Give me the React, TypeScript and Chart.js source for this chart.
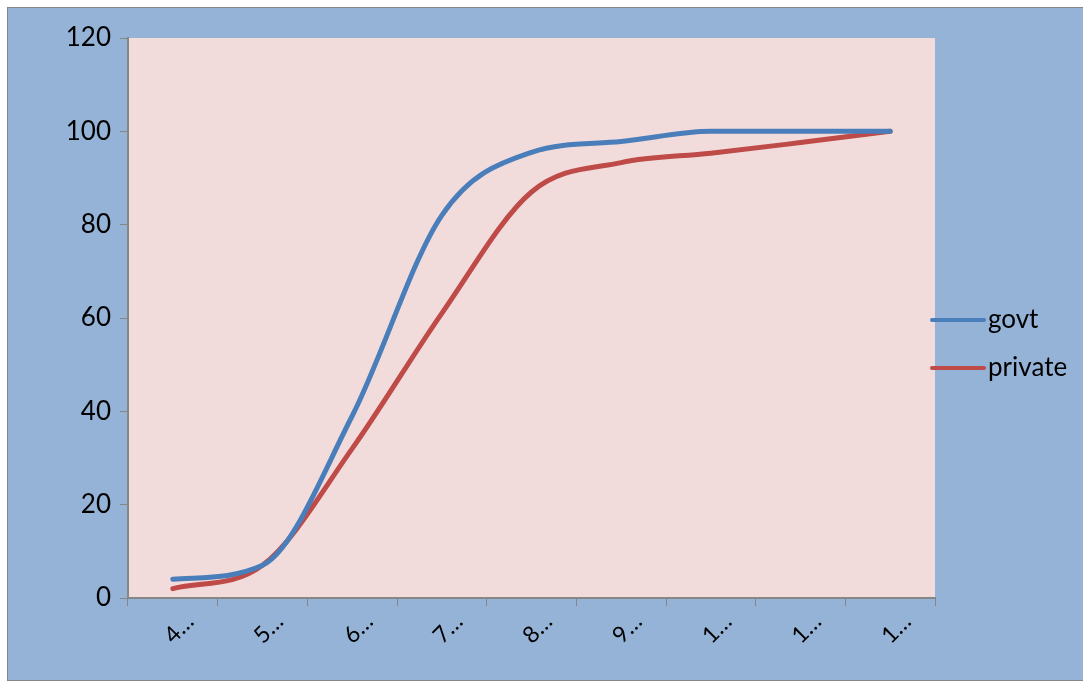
import React, { useEffect, useRef } from "react";
import { Chart, registerables } from "chart.js";

Chart.register(...registerables);

// Category labels (shown truncated as in the workbook view)
const categories = ["4…", "5…", "6…", "7…", "8…", "9…", "1…", "1…", "1…"];
// Cumulative percentages per category
const govtValues = [4, 7, 39, 82, 95.5, 97.8, 100, 100, 100];
const privateValues = [2, 7, 32, 61, 87, 93.3, 95.3, 97.6, 100];
const yTicks = [0, 20, 40, 60, 80, 100, 120];

const BLUE = "#4A7EBB";
const RED = "#BE4B48";
const PLOT_BG = "#F2DCDB";
const OUTER_BG = "#95B3D7";
const AXIS_GREY = "#868686";
const FONT = "Lato, 'Open Sans', sans-serif";
const TEXT_SIZE = 26;

const plotBackground = {
  id: "plotBackground",
  beforeDraw(chart: any) {
    const { ctx, chartArea } = chart;
    ctx.save();
    ctx.fillStyle = PLOT_BG;
    ctx.fillRect(chartArea.left, chartArea.top, chartArea.right - chartArea.left, chartArea.bottom - chartArea.top);
    ctx.restore();
  },
};

const sideLegend = {
  id: "sideLegend",
  afterDraw(chart: any) {
    const { ctx } = chart;
    ctx.save();
    ctx.font = `${TEXT_SIZE}px ${FONT}`;
    ctx.textBaseline = "middle";
    chart.data.datasets.forEach((ds: any, i: number) => {
      const y = 312 + i * 48;
      ctx.strokeStyle = ds.borderColor;
      ctx.lineWidth = 4;
      ctx.lineCap = "round";
      ctx.beginPath();
      ctx.moveTo(924, y);
      ctx.lineTo(976, y);
      ctx.stroke();
      ctx.fillStyle = "#000";
      ctx.fillText(ds.label, 980, y);
    });
    ctx.restore();
  },
};

export default function App() {
  const canvasRef = useRef<HTMLCanvasElement>(null);

  useEffect(() => {
    const chart = new Chart(canvasRef.current!, {
      type: "line",
      data: {
        labels: categories,
        datasets: [
          {
            label: "govt",
            data: govtValues,
            borderColor: BLUE,
            borderWidth: 5,
            pointRadius: 0,
            cubicInterpolationMode: "monotone",
            borderCapStyle: "round",
          },
          {
            label: "private",
            data: privateValues,
            borderColor: RED,
            borderWidth: 5,
            pointRadius: 0,
            cubicInterpolationMode: "monotone",
            borderCapStyle: "round",
          },
        ],
      },
      options: {
        animation: false,
        responsive: false,
        layout: { padding: { top: 30, right: 148, left: 0, bottom: 0 } },
        plugins: { legend: { display: false }, tooltip: { enabled: false } },
        scales: {
          x: {
            type: "category",
            offset: true,
            grid: {
              offset: true,
              drawOnChartArea: false,
              drawTicks: true,
              tickLength: 8,
              color: AXIS_GREY,
            },
            border: { color: AXIS_GREY, width: 2 },
            ticks: {
              minRotation: 45,
              maxRotation: 45,
              autoSkip: false,
              labelOffset: 17,
              padding: 2,
              color: "#000",
              font: { family: FONT, size: 23 },
            },
            afterFit(scale: any) {
              scale.height = 82;
            },
          },
          y: {
            min: 0,
            max: 120,
            afterBuildTicks(scale: any) {
              scale.ticks = yTicks.map((v) => ({ value: v }));
            },
            grid: {
              drawOnChartArea: false,
              drawTicks: true,
              tickLength: 8,
              color: AXIS_GREY,
            },
            border: { color: AXIS_GREY, width: 2 },
            ticks: {
              padding: 9,
              color: "#000",
              font: { family: FONT, size: TEXT_SIZE },
            },
            afterFit(scale: any) {
              scale.width = 120;
            },
          },
        },
      },
      plugins: [plotBackground, sideLegend],
    });
    return () => chart.destroy();
  }, []);

  return (
    <div
      style={{
        position: "absolute",
        left: 7,
        top: 7,
        width: 1080,
        height: 672,
        background: OUTER_BG,
        border: `1px solid ${AXIS_GREY}`,
        overflow: "hidden",
      }}
    >
      <canvas ref={canvasRef} width={1075} height={672} style={{ display: "block" }} />
    </div>
  );
}
